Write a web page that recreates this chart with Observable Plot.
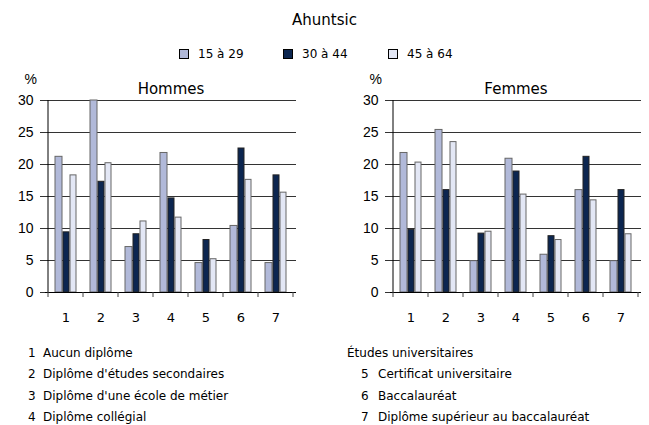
<!DOCTYPE html>
<html>
<head>
<meta charset="utf-8">
<script src="https://cdn.jsdelivr.net/npm/d3@7"></script>
<script src="https://cdn.jsdelivr.net/npm/@observablehq/plot@0.6"></script>
<style>
  html, body { margin: 0; padding: 0; background: #fff; }
  #root { position: relative; width: 649px; height: 425px; font-family: "DejaVu Sans", sans-serif; color: #000; }
  .abs { position: absolute; white-space: nowrap; }
  #title { left: 0; width: 649px; top: 11px; text-align: center; font-size: 15px; }
  .leg { top: 47px; font-size: 12px; display: flex; align-items: center; }
  .sw { display: inline-block; width: 8px; height: 8px; border: 1px solid #000; margin-right: 9px; }
  .note { font-size: 12px; line-height: 15px; }
</style>
</head>
<body>
<div id="root"></div>
<script>
const mainTitle = "Ahuntsic";
const categories = ["1", "2", "3", "4", "5", "6", "7"];
const series = ["15 à 29", "30 à 44", "45 à 64"];
const colors = ["#b1b9d9", "#0c2650", "#e3e7f5"];
const yTicks = [0, 5, 10, 15, 20, 25, 30];

const hommes15 = [21.2, 30.0, 7.1, 21.8, 4.6, 10.4, 4.6];
const hommes30 = [9.4, 17.3, 9.1, 14.7, 8.2, 22.5, 18.3];
const hommes45 = [18.3, 20.2, 11.1, 11.7, 5.2, 17.6, 15.6];

const femmes15 = [21.8, 25.4, 4.9, 20.9, 5.9, 16.0, 4.9];
const femmes30 = [9.8, 16.0, 9.2, 18.9, 8.8, 21.2, 16.0];
const femmes45 = [20.3, 23.5, 9.5, 15.3, 8.2, 14.4, 9.1];

const leftNotes = ["Aucun diplôme", "Diplôme d'études secondaires", "Diplôme d'une école de métier", "Diplôme collégial"];
const rightHeading = "Études universitaires";
const rightNotes = ["Certificat universitaire", "Baccalauréat", "Diplôme supérieur au baccalauréat"];

const root = document.getElementById("root");

// title
const t = document.createElement("div");
t.className = "abs"; t.id = "title"; t.textContent = mainTitle;
root.appendChild(t);

// legend
const legX = [179, 283, 388];
series.forEach((s, i) => {
  const d = document.createElement("div");
  d.className = "abs leg";
  d.style.left = legX[i] + "px";
  const sw = document.createElement("span");
  sw.className = "sw"; sw.style.background = colors[i];
  d.appendChild(sw);
  d.appendChild(document.createTextNode(s));
  root.appendChild(d);
});

function rows(arrs) {
  return categories.flatMap((c, i) => series.map((s, j) => ({cat: c, series: s, value: arrs[j][i]})));
}

const insets = [[7, 21], [15, 14], [22, 7]];
const strokes = ["#666", "#222", "#666"];

function boundaryMark(index, scales) {
  const x = scales.x, y = scales.y;
  const bw = x.bandwidth ? x.bandwidth() : (x(categories[1]) - x(categories[0]));
  const y0 = y(0);
  const g = d3.create("svg:g").attr("stroke", "#000").attr("stroke-width", 1);
  const edges = categories.map(c => x(c)).concat([x(categories[categories.length - 1]) + bw]);
  for (const e of edges) {
    g.append("line").attr("x1", e).attr("x2", e).attr("y1", y0).attr("y2", y0 + 5).attr("stroke", "#444");
  }
  g.append("line").attr("x1", edges[0]).attr("x2", edges[0]).attr("y1", y0).attr("y2", y(yTicks[yTicks.length - 1]));
  return g.node();
}

function panel(title, arrs, opts) {
  const data = rows(arrs);
  return Plot.plot({
    width: opts.width,
    height: 270,
    marginTop: 38,
    marginBottom: 40,
    marginLeft: opts.marginLeft,
    marginRight: opts.marginRight,
    style: {fontFamily: "Liberation Sans, Arial, sans-serif", fontSize: "14px", background: "transparent", overflow: "visible"},
    x: {type: "band", domain: categories, padding: 0, axis: null},
    y: {domain: [0, 30], axis: null},
    marks: [
      Plot.gridY(yTicks.slice(1), {stroke: "#333", strokeOpacity: 1}),
      Plot.axisY(yTicks, {tickSize: 5, tickPadding: 7, label: null, stroke: "#333", fontSize: 14}),
      ...series.map((s, j) => Plot.barY(data.filter(d => d.series === s), {
        x: "cat", y: "value",
        fill: colors[j], stroke: strokes[j], strokeWidth: 1,
        insetLeft: insets[j][0], insetRight: insets[j][1]
      })),
      Plot.ruleY([0], {stroke: "#000"}),
      boundaryMark,
      Plot.axisX({tickSize: 0, tickPadding: 20, label: null, fontSize: 13, fontFamily: "DejaVu Sans"}),
      Plot.text(["%"], {text: d => d, frameAnchor: "top-left", lineAnchor: "middle", dx: -21, dy: -21, fontSize: 14}),
      Plot.text([title], {text: d => d, frameAnchor: "top", lineAnchor: "middle", dy: -11, fontSize: 15, fontFamily: "DejaVu Sans"})
    ]
  });
}

const left = panel("Hommes", [hommes15, hommes30, hommes45], {width: 324, marginLeft: 45, marginRight: 28});
const right = panel("Femmes", [femmes15, femmes30, femmes45], {width: 325, marginLeft: 66, marginRight: 8});
left.style.position = "absolute"; left.style.left = "0px"; left.style.top = "62px";
right.style.position = "absolute"; right.style.left = "324px"; right.style.top = "62px";
root.appendChild(left);
root.appendChild(right);

// notes
const lineY = [346, 367, 389, 410];
leftNotes.forEach((n, i) => {
  const num = document.createElement("div");
  num.className = "abs note"; num.style.left = "28px"; num.style.top = lineY[i] + "px";
  num.textContent = categories[i];
  root.appendChild(num);
  const d = document.createElement("div");
  d.className = "abs note"; d.style.left = "43px"; d.style.top = lineY[i] + "px";
  d.textContent = n;
  root.appendChild(d);
});
const h = document.createElement("div");
h.className = "abs note"; h.style.left = "347px"; h.style.top = lineY[0] + "px";
h.textContent = rightHeading;
root.appendChild(h);
rightNotes.forEach((n, i) => {
  const num = document.createElement("div");
  num.className = "abs note"; num.style.left = "361px"; num.style.top = lineY[i + 1] + "px";
  num.textContent = categories[i + 4];
  root.appendChild(num);
  const d = document.createElement("div");
  d.className = "abs note"; d.style.left = "378px"; d.style.top = lineY[i + 1] + "px";
  d.textContent = n;
  root.appendChild(d);
});
</script>
</body>
</html>
